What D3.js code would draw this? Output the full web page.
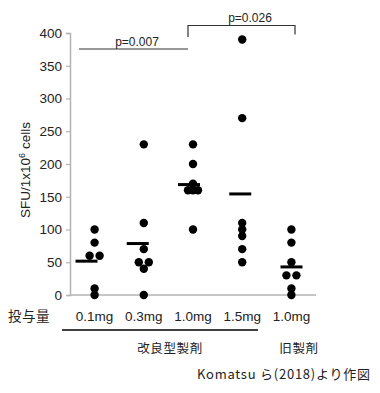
<!DOCTYPE html>
<html><head><meta charset="utf-8">
<script src="https://cdn.jsdelivr.net/npm/d3@7/dist/d3.min.js"></script>
<style>
html,body{margin:0;padding:0;background:#fff;}
svg{display:block;}
</style></head>
<body>
<svg id="chart" width="380" height="393"></svg>
<script>
// ---- data ----
const doseLabels = ["0.1mg", "0.3mg", "1.0mg", "1.5mg", "1.0mg"];
const dose01 = [100, 80, 60, 60, 10, 0];
const dose03 = [230, 110, 70, 50, 50, 40, 0];
const dose10 = [230, 200, 170, 160, 160, 160, 100];
const dose15 = [390, 270, 110, 100, 90, 70, 50];
const oldDose10 = [100, 80, 50, 30, 30, 10, 0];
const yTicks = [0, 50, 100, 150, 200, 250, 300, 350, 400];
const pLabels = ["p=0.007", "p=0.026"];
const groupNames = ["改良型製剤", "旧製剤"];
const doseTitle = "投与量";
const sourceNote = "Komatsu ら(2018)より作図";

const series = [dose01, dose03, dose10, dose15, oldDose10];
const idx = d3.range(series.length);

const svg = d3.select("#chart");
const latin = "'Liberation Sans', Arial, Helvetica, sans-serif";
const cjk = "'Noto Sans CJK JP', 'Noto Sans', sans-serif";

const y = d3.scaleLinear().domain([0, 400]).range([295, 33]);
const x = d3.scalePoint().domain(idx).range([70, 316]).padding(0.5);
const xMean = d3.scalePoint().domain(idx).range([86.5, 291.5]);

// y axis
const yAxis = svg.append("g").attr("transform", "translate(70,0)")
  .call(d3.axisLeft(y).tickValues(yTicks).tickSize(4).tickPadding(4).tickFormat(d3.format("d")));
yAxis.select(".domain").attr("stroke", "#b3b3b3").attr("stroke-width", 1.5);
yAxis.selectAll(".tick line").attr("stroke", "#b3b3b3").attr("stroke-width", 1.2);
yAxis.selectAll(".tick text").attr("fill", "#222").style("font-family", latin).style("font-size", "13.5px");

// x axis baseline
svg.append("line").attr("x1", 70).attr("x2", 316).attr("y1", y(0)).attr("y2", y(0))
  .attr("stroke", "#b3b3b3").attr("stroke-width", 1.5);

// y label
svg.append("text")
  .attr("transform", `translate(30,${(y(0)+y(400))/2 + 6}) rotate(-90)`)
  .attr("text-anchor", "middle")
  .style("font-family", latin).style("font-size", "13.5px").attr("fill", "#222")
  .call(t => {
    t.append("tspan").text("SFU/1x10");
    t.append("tspan").attr("dy", -5).style("font-size", "9px").text("6");
    t.append("tspan").attr("dy", 5).text(" cells");
  });

// dots: equal values spread side by side
const dots = [];
series.forEach((vals, gi) => {
  const counts = d3.rollup(vals, v => v.length, d => d);
  const seen = new Map();
  vals.forEach(v => {
    const n = counts.get(v);
    const k = seen.get(v) || 0; seen.set(v, k + 1);
    const sp = n > 1 ? 10 / (n - 1) : 0;
    dots.push({ g: gi, v: v, off: n > 1 ? (k - (n - 1) / 2) * sp : 0 });
  });
});
svg.append("g").selectAll("circle").data(dots).join("circle")
  .attr("cx", d => x(d.g) + d.off)
  .attr("cy", d => y(d.v))
  .attr("r", 4.2)
  .attr("fill", "#000");

// mean lines
svg.append("g").selectAll("line").data(idx).join("line")
  .attr("x1", i => xMean(i) - 11).attr("x2", i => xMean(i) + 11)
  .attr("y1", i => y(d3.mean(series[i]))).attr("y2", i => y(d3.mean(series[i])))
  .attr("stroke", "#000").attr("stroke-width", 3);

// significance brackets
svg.append("line").attr("x1", 79).attr("x2", 188).attr("y1", 49).attr("y2", 49)
  .attr("stroke", "#333").attr("stroke-width", 1.2);
svg.append("text").attr("x", 137).attr("y", 46).attr("text-anchor", "middle")
  .style("font-family", latin).style("font-size", "12px").attr("fill", "#222").text(pLabels[0]);
svg.append("path").attr("d", "M188,37V25.5H295V34.5").attr("fill", "none")
  .attr("stroke", "#333").attr("stroke-width", 1.2);
svg.append("text").attr("x", 250).attr("y", 22).attr("text-anchor", "middle")
  .style("font-family", latin).style("font-size", "12px").attr("fill", "#222").text(pLabels[1]);

// dose labels
svg.append("g").selectAll("text").data(idx).join("text")
  .attr("x", i => x(i)).attr("y", 321).attr("text-anchor", "middle")
  .style("font-family", latin).style("font-size", "13.5px").attr("fill", "#222")
  .text(i => doseLabels[i]);
svg.append("text").attr("x", 8).attr("y", 321)
  .style("font-family", cjk).style("font-size", "13.5px").attr("fill", "#222")
  .attr("letter-spacing", "0.5px").text(doseTitle);

// group underline and names
svg.append("line").attr("x1", 62).attr("x2", 258).attr("y1", 330).attr("y2", 330)
  .attr("stroke", "#000").attr("stroke-width", 1.6);
svg.append("text").attr("x", 170).attr("y", 353).attr("text-anchor", "middle")
  .style("font-family", cjk).style("font-size", "12.5px").attr("letter-spacing", "0.6px")
  .attr("fill", "#222").text(groupNames[0]);
svg.append("text").attr("x", 299).attr("y", 353).attr("text-anchor", "middle")
  .style("font-family", cjk).style("font-size", "12.5px").attr("letter-spacing", "0.6px")
  .attr("fill", "#222").text(groupNames[1]);

// source note
svg.append("text").attr("x", 197).attr("y", 379)
  .attr("textLength", 173).attr("lengthAdjust", "spacing")
  .style("font-family", cjk).style("font-size", "13px").attr("fill", "#222").text(sourceNote);
</script>
</body></html>
